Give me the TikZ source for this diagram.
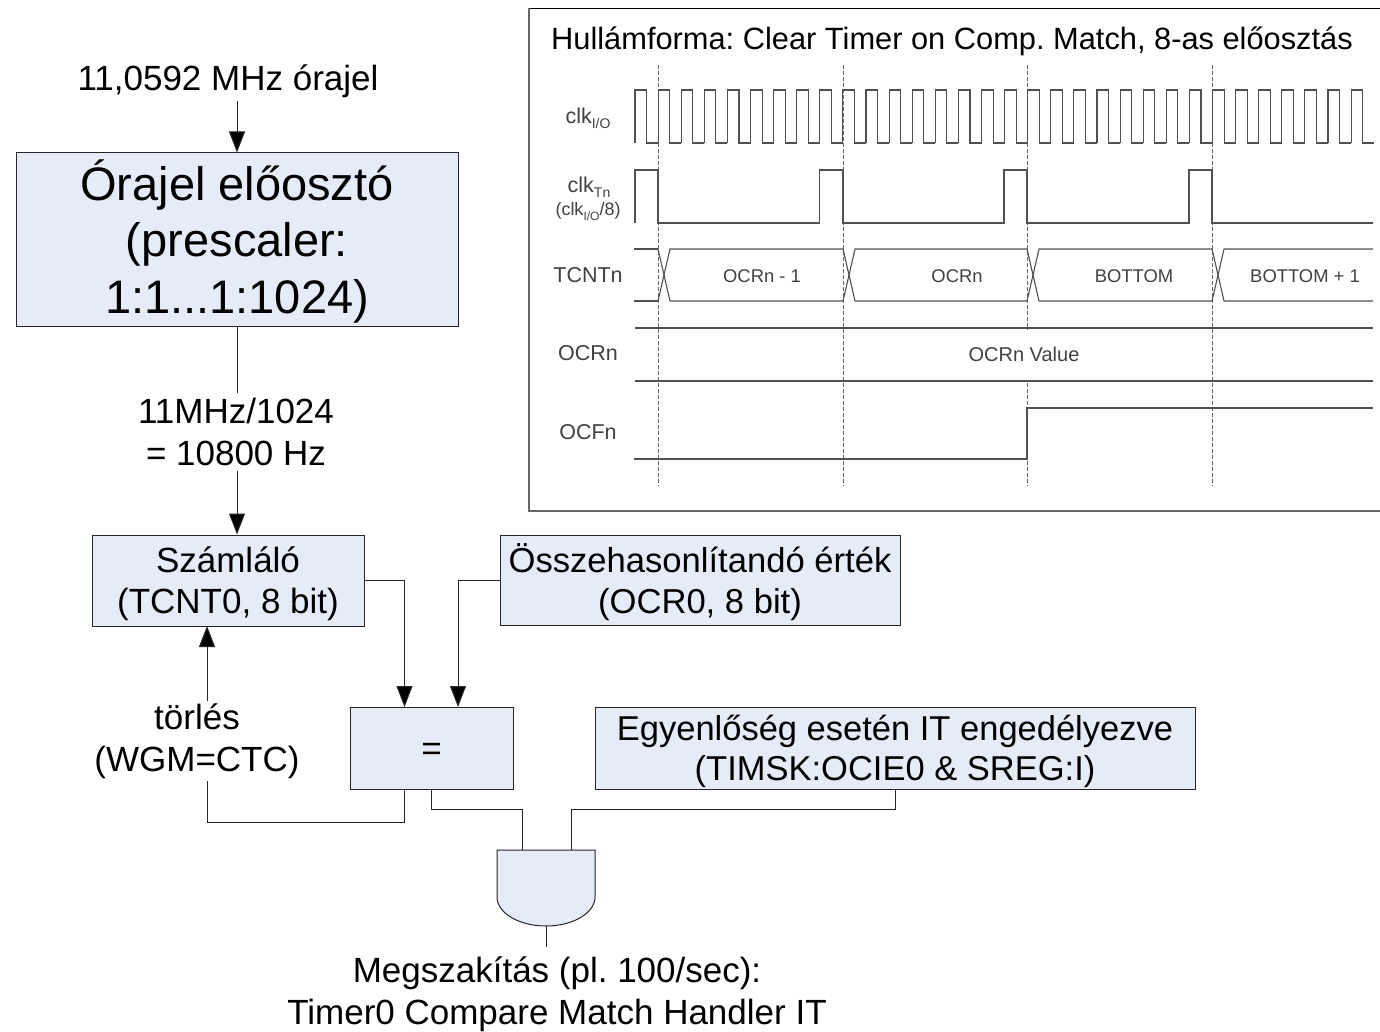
\documentclass[tikz,border=0pt]{standalone}
\usepackage{fontspec}
\setmainfont{Liberation Sans}
\usetikzlibrary{arrows.meta}
\definecolor{boxfill}{HTML}{E6ECF7}
\definecolor{sigline}{HTML}{505050}
\newcommand{\lowsub}[2]{\raisebox{-5pt}{\fontsize{#1}{#1}\selectfont #2}}
\frenchspacing
\tikzset{
  blockbox/.style={draw=black!85,line width=1pt,fill=boxfill,align=center,inner sep=0pt},
  biglabel/.style={align=center,inner sep=0pt,font=\fontsize{35}{42}\selectfont},
  wire/.style={draw=black!85,line width=1pt},
  arrowwire/.style={wire,-{Triangle[length=21pt,width=16pt,fill=black]}},
  signal/.style={draw=sigline,line width=1.1pt},
  cutline/.style={draw=black!60,line width=0.9pt,dashed,dash pattern=on 4pt off 2pt},
  signame/.style={text=black!75,inner sep=0pt,align=center,font=\fontsize{21.5}{24}\selectfont},
  sigvalue/.style={text=black!75,inner sep=0pt,font=\fontsize{18.4}{22}\selectfont}
}
\begin{document}
\begin{tikzpicture}[x=1pt,y=-1pt]
\useasboundingbox (0,0) rectangle (1380,1032);
% block diagram
\node[biglabel,outer ysep=3pt] (clklabel) at (228,81) {11,0592 MHz órajel};
\node[blockbox,minimum width=442pt,minimum height=173pt,font=\fontsize{47}{56.5}\selectfont] (prescaler) at (237,239.5) {\rule{0pt}{44pt}Órajel előosztó\\(prescaler:\\1:1...1:1024)\rule[-8pt]{0pt}{8pt}};
\node[biglabel,outer ysep=5pt] (divlabel) at (236,432) {11MHz/1024\\= 10800 Hz};
\node[blockbox,minimum width=272pt,minimum height=91pt,font=\fontsize{35}{41}\selectfont] (counter) at (228,580.5) {\rule{0pt}{33pt}Számláló\\(TCNT0, 8 bit)};
\node[blockbox,minimum width=400pt,minimum height=90pt,font=\fontsize{34.6}{41}\selectfont] (ocrbox) at (700,580) {\rule{0pt}{33pt}Összehasonlítandó érték\\(OCR0, 8 bit)};
\node[blockbox,minimum width=163pt,minimum height=82pt,font=\fontsize{35}{41}\selectfont] (compare) at (431.5,748) {\rule{0pt}{24pt}=};
\node[blockbox,minimum width=600pt,minimum height=82pt,font=\fontsize{34.5}{40}\selectfont] (enable) at (895,748) {\rule{0pt}{33pt}Egyenlőség esetén IT engedélyezve\\(TIMSK:OCIE0 \& SREG:I)};
\node[biglabel,outer ysep=2pt] (clearlabel) at (197,741) {törlés\\(WGM=CTC)};
\node[biglabel] (irqlabel) at (557,994) {Megszakítás (pl. 100/sec):\\Timer0 Compare Match Handler IT};
% and gate
\draw[wire,fill=boxfill] (497,850) -- (595,850) -- (595,897) .. controls (595,913) and (573,926) .. (546,926) .. controls (519,926) and (497,913) .. (497,897) -- cycle;
\coordinate (andleft) at (522,850);
\coordinate (andright) at (571,850);
\coordinate (andout) at (546,926);
\coordinate (irqstub) at (546,947);
\coordinate (cmpleft) at (404.5,707);
\coordinate (cmpright) at (458,707);
\coordinate (clearx) at (207,626);
% connectors
\draw[arrowwire] (clklabel.south -| prescaler.north) -- (prescaler.north);
\draw[wire] (prescaler.south) -- (divlabel.north -| prescaler.south);
\draw[arrowwire] (divlabel.south -| prescaler.south) -- (prescaler.south |- counter.north);
\draw[arrowwire] (counter.east) -| (cmpleft);
\draw[arrowwire] (ocrbox.west) -| (cmpright);
\draw[arrowwire] (clearlabel.north -| clearx) -- (clearx);
\draw[wire] (cmpleft |- compare.south) -- ++(0,33) -| (clearlabel.south -| clearx);
\draw[wire] (compare.south) -- ++(0,20) -| (andleft);
\draw[wire] (enable.south) -- ++(0,20) -| (andright);
\draw[wire] (andout) -- (irqstub);
% waveform frame
\draw[draw=black,line width=1.2pt] (1385,8.5) -- (529,8.5);
\draw[draw=black!60,line width=1.6pt] (529,8.5) -- (529,511) -- (1385,511);
\node[inner sep=0pt,font=\fontsize{30.8}{34}\selectfont] (wavetitle) at (952,41) {Hullámforma: Clear Timer on Comp. Match, 8-as előosztás};
% dashed cuts
\foreach \xcut in {658,843,1027,1212}
  \draw[cutline] (\xcut,65) -- (\xcut,486);
% signal names
\node[signame] (clkio) at (588,118) {clk\lowsub{14}{I/O}};
\node[signame] (clktn) at (589,187) {clk\lowsub{14}{Tn}};
\node[signame,font=\fontsize{18}{20}\selectfont] (clkdiv) at (588,212) {(clk\lowsub{12}{I/O}/8)};
\node[signame] (tcntname) at (588,275) {TCNTn};
\node[signame] (ocrname) at (588,353) {OCRn};
\node[signame] (ocfname) at (588,432) {OCFn};
% clk io
\foreach \i in {0,...,31}
  \draw[signal] ({635+23.1*\i},143) -- ({635+23.1*\i},90) -- ({646.55+23.1*\i},90) -- ({646.55+23.1*\i},143) -- ({658.1+23.1*\i},143);
\draw[signal] (1362.6,143) -- (1373,143);
% clk tn
\draw[signal] (635,223) -- (635,170) -- (658,170) -- (658,223) -- (819.5,223) -- (819.5,170) -- (843,170) -- (843,223) -- (1004,223) -- (1004,170) -- (1027,170) -- (1027,223) -- (1189,223) -- (1189,170) -- (1212,170) -- (1212,223) -- (1373,223);
% tcnt
\draw[signal] (634,249) -- (658,249);
\draw[signal] (634,301) -- (658,301);
\foreach \xa/\xb in {658/843,843/1027,1027/1212,1212/1373}{
  \draw[signal] (\xa,249) -- (\xa+12,301) -- (\xb,301);
  \draw[signal] (\xa,301) -- (\xa+12,249) -- (\xb,249);
}
\node[sigvalue] (valone) at (762,276) {OCRn - 1};
\node[sigvalue] (valtwo) at (957,276) {OCRn};
\node[sigvalue] (valthree) at (1134,276) {BOTTOM};
\node[sigvalue] (valfour) at (1305,276) {BOTTOM + 1};
% ocr
\draw[signal] (635,328) -- (1373,328);
\draw[signal] (635,381) -- (1373,381);
\node[sigvalue,font=\fontsize{20}{24}\selectfont,fill=white,minimum height=50pt] (ocrvalue) at (1024,354.5) {OCRn Value};
% ocf
\draw[signal] (634,459) -- (1027,459) -- (1027,408) -- (1373,408);
\end{tikzpicture}
\end{document}
